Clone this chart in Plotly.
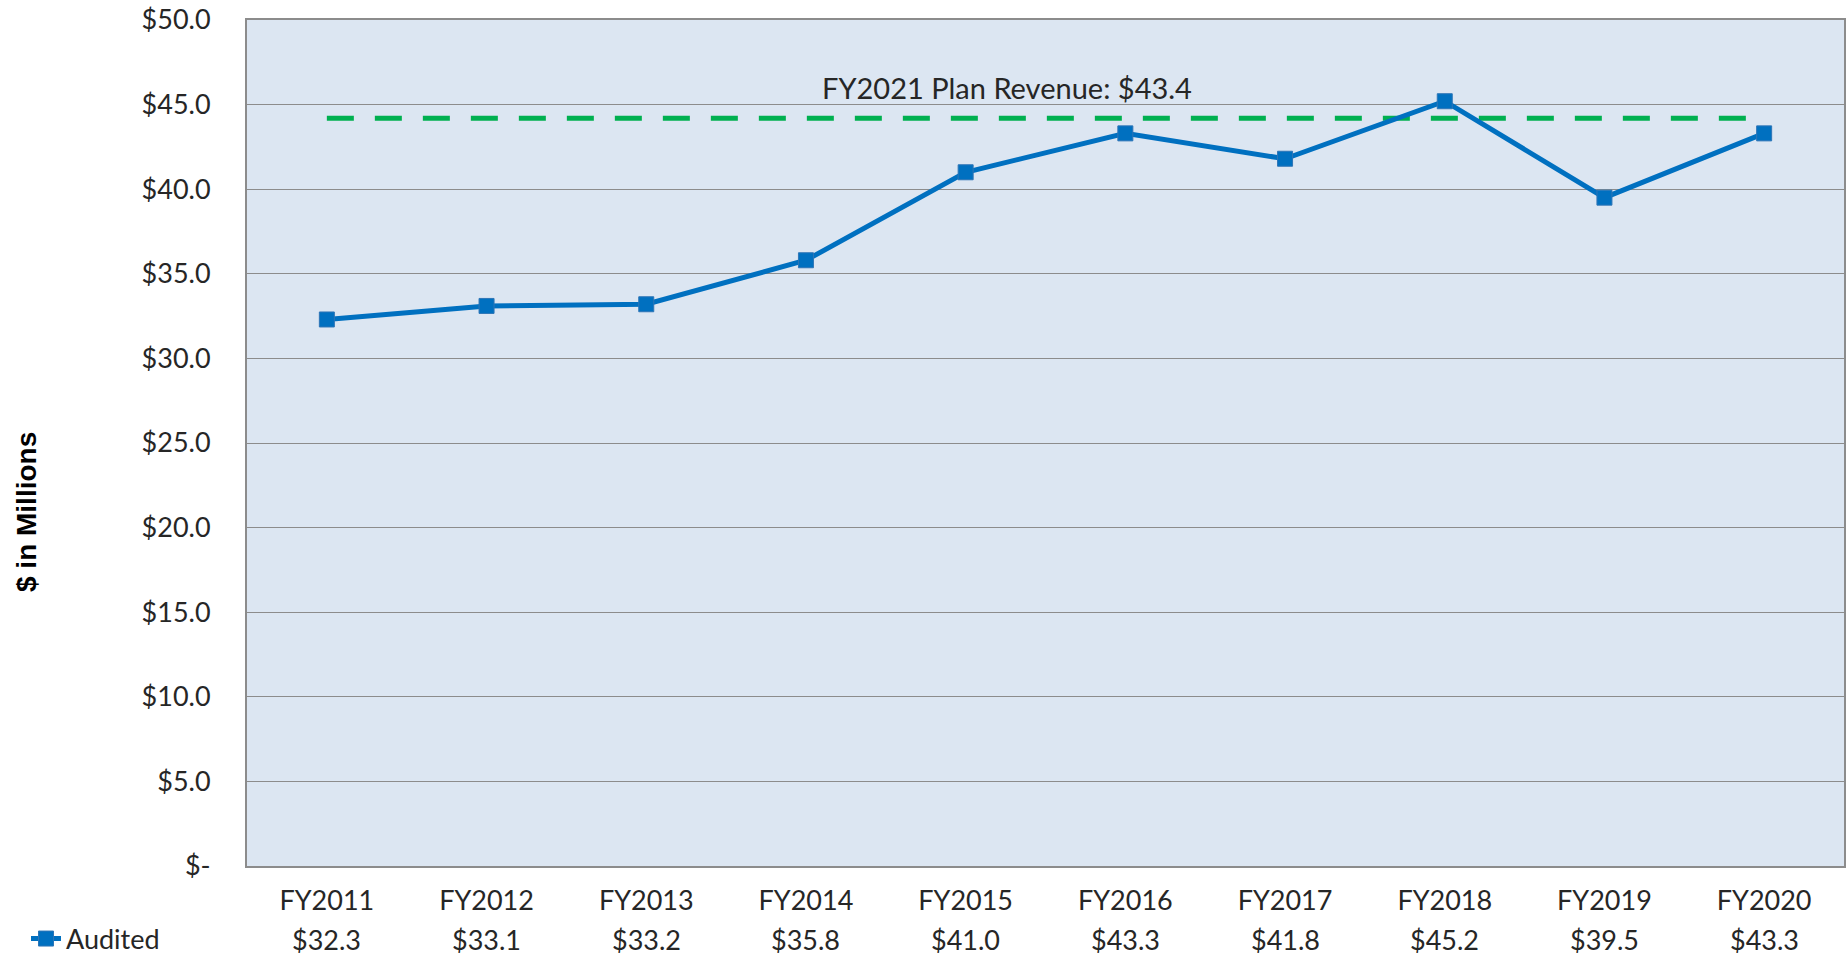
import plotly.graph_objects as go

categories = ["FY2011", "FY2012", "FY2013", "FY2014", "FY2015",
              "FY2016", "FY2017", "FY2018", "FY2019", "FY2020"]
audited = [32.3, 33.1, 33.2, 35.8, 41.0, 43.3, 41.8, 45.2, 39.5, 43.3]
plan_level = 44.2
plan_label = "FY2021 Plan Revenue: $43.4"
y_ticks = [0, 5, 10, 15, 20, 25, 30, 35, 40, 45, 50]
y_ticktext = ["$-", "$5.0", "$10.0", "$15.0", "$20.0", "$25.0", "$30.0",
              "$35.0", "$40.0", "$45.0", "$50.0"]

FONT = "Lato, 'Open Sans', sans-serif"
TXT = "#262626"
FS = 27
W, H = 1847, 956
L, R, T, B = 247, 3, 20, 90
plot_w = W - L - R
plot_h = H - T - B

fig = go.Figure()

fig.add_trace(go.Scatter(
    x=[categories[0], categories[-1]], y=[plan_level, plan_level],
    mode="lines", line=dict(color="#00B050", width=5, dash="27px,21px"),
    showlegend=False, hoverinfo="skip"))

fig.add_trace(go.Scatter(
    x=categories, y=audited, mode="lines+markers", name="Audited",
    line=dict(color="#0070C0", width=5),
    marker=dict(symbol="square", size=15, color="#0070C0",
                line=dict(color="#2E75B6", width=1))))

annotations = [dict(
    x=(1007 - L) / plot_w, xref="paper", y=plan_level, yref="y",
    yshift=31, text=plan_label, showarrow=False,
    font=dict(family=FONT, size=29, color=TXT))]

legend_y = (H - B - 939) / plot_h
for c, v in zip(categories, audited):
    annotations.append(dict(
        x=c, xref="x", y=legend_y, yref="paper", yanchor="middle",
        text=f"${v:.1f}", showarrow=False,
        font=dict(family=FONT, size=FS, color=TXT)))

annotations.append(dict(
    x=-(L - 27) / plot_w, xref="paper", y=(H - B - 512) / plot_h, yref="paper",
    text="<b>$ in Millions</b>", textangle=-90, showarrow=False,
    xanchor="center", yanchor="middle",
    font=dict(family="'Liberation Sans', Arial, sans-serif", size=28, color="#000000")))

fig.update_layout(
    width=W, height=H,
    margin=dict(l=L, r=R, t=T, b=B, autoexpand=False),
    paper_bgcolor="white",
    plot_bgcolor="#DCE6F2",
    font=dict(family=FONT, size=FS, color=TXT),
    showlegend=True,
    legend=dict(x=-(L - 26) / plot_w, xanchor="left", y=legend_y, yanchor="middle",
                orientation="h", bgcolor="rgba(0,0,0,0)",
                font=dict(family=FONT, size=FS, color=TXT),
                itemwidth=30, tracegroupgap=0),
    annotations=annotations,
    xaxis=dict(
        type="category", categoryorder="array", categoryarray=categories,
        range=[-0.5, len(categories) - 0.5],
        showgrid=False, showline=True, linecolor="#8C8C8C", linewidth=2,
        mirror=True, ticks="", ticklabelstandoff=10,
        tickfont=dict(family=FONT, size=FS, color=TXT)),
    yaxis=dict(
        range=[0, 50], tickvals=y_ticks, ticktext=y_ticktext,
        showgrid=True, gridcolor="#8C8C8C", gridwidth=1,
        showline=True, linecolor="#8C8C8C", linewidth=2, mirror=True,
        zeroline=False, ticks="", ticklabelstandoff=29,
        tickfont=dict(family=FONT, size=FS, color=TXT)),
)

fig.write_html("out.html", config={"displayModeBar": False},
               post_script="document.body.style.margin='0';")
